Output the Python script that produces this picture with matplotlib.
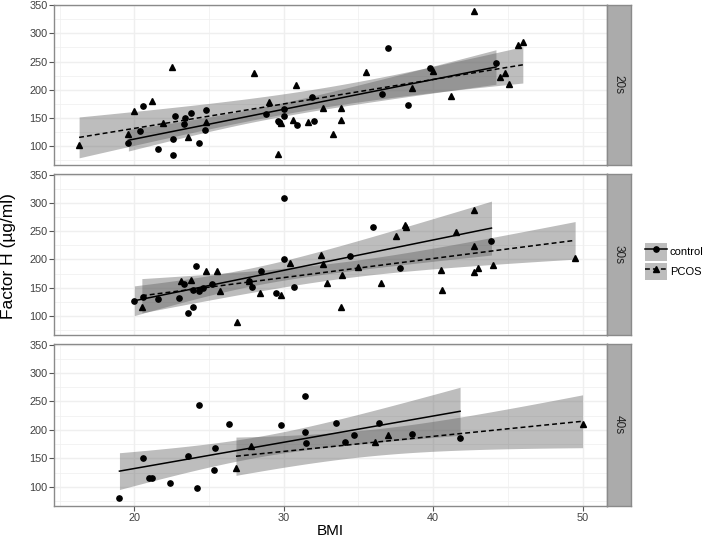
import numpy as np
import matplotlib
matplotlib.use("Agg")
import matplotlib.pyplot as plt
from matplotlib.patches import Patch
from matplotlib.lines import Line2D
from math import lgamma, exp, sqrt, pi

plt.rcParams['font.family'] = ['Liberation Sans', 'DejaVu Sans']

# ---------------- data ----------------
facets = ["20s", "30s", "40s"]
groups = ["control", "PCOS"]

ctrl20_bmi = [19.6, 20.4, 20.6, 21.6, 22.6, 22.6, 22.7, 23.3, 23.4, 23.8, 24.3, 24.7, 24.8,
              28.8, 29.6, 29.7, 30.0, 30.0, 30.9, 31.9, 32.0, 36.6, 37.0, 38.3, 39.8, 44.2]
ctrl20_fh = [104.7, 126.5, 171, 95.3, 83.5, 112, 154, 139, 149, 159, 104.7, 129, 164,
             156, 145, 142, 165, 154, 137.6, 187.6, 145, 192, 274.7, 172, 239, 247.6]
pcos20_bmi = [16.3, 19.6, 20.0, 21.2, 21.9, 22.5, 23.6, 24.8, 28.0, 29.0, 29.6, 29.8, 30.6,
              30.8, 31.6, 32.6, 33.3, 33.8, 33.8, 35.5, 38.6, 40.0, 41.2, 42.7, 44.5, 44.8,
              45.1, 45.7, 46.0]
pcos20_fh = [102.4, 122, 163, 180, 140.6, 240, 116, 143.5, 229, 179, 86, 140.6, 146,
             207.6, 142, 167, 121, 167, 146, 232, 203.5, 233, 188, 339, 222, 229,
             210, 280, 284]

ctrl30_bmi = [20.0, 20.6, 21.6, 23.0, 23.3, 23.6, 23.9, 23.9, 24.1, 24.3, 24.6, 25.2, 27.7,
              27.9, 28.5, 29.5, 30.0, 30.0, 30.7, 34.4, 36.0, 37.8, 43.9]
ctrl30_fh = [126.5, 133, 129.4, 131, 156.5, 104.7, 145, 116, 189, 144, 150, 156.5, 161,
             152, 180, 140, 309, 201, 152, 206.5, 257.6, 184, 232]
pcos30_bmi = [20.5, 23.1, 23.8, 24.8, 25.5, 25.7, 26.9, 27.7, 28.4, 29.8, 30.4, 32.5, 32.6,
              32.9, 33.8, 33.9, 35.0, 36.5, 37.5, 38.1, 38.2, 40.5, 40.6, 41.5, 42.7, 42.7,
              42.7, 43.0, 44.0, 49.5]
pcos30_fh = [116, 161, 163.5, 180, 180, 144, 89.4, 162, 140.6, 136.5, 194, 208, 191,
             157.6, 115, 173, 187, 159, 241, 260, 256.5, 181, 146, 248, 287.6, 223,
             178, 185, 190.6, 201.8]

ctrl40_bmi = [19.0, 20.6, 21.0, 21.2, 22.4, 23.6, 24.2, 24.3, 25.3, 25.4, 26.3, 29.8, 31.4,
              31.4, 31.5, 33.5, 34.1, 34.7, 36.4, 38.6, 41.8]
ctrl40_fh = [80, 151, 116, 115, 106, 155, 97.6, 244, 130, 169, 210, 209, 259.6,
             197, 177, 212, 179, 190.6, 213, 193, 186.5]
pcos40_bmi = [26.8, 27.8, 36.1, 37.0, 50.0]
pcos40_fh = [133, 172, 179, 190.6, 210]

data = {
    "20s": {"control": (ctrl20_bmi, ctrl20_fh), "PCOS": (pcos20_bmi, pcos20_fh)},
    "30s": {"control": (ctrl30_bmi, ctrl30_fh), "PCOS": (pcos30_bmi, pcos30_fh)},
    "40s": {"control": (ctrl40_bmi, ctrl40_fh), "PCOS": (pcos40_bmi, pcos40_fh)},
}

x_ticks = [20, 30, 40, 50]
y_ticks = [100, 150, 200, 250, 300, 350]


# ---------------- helpers ----------------
def t_ppf(p, df):
    xs = np.linspace(0, 60, 600001)
    c = exp(lgamma((df + 1) / 2) - lgamma(df / 2)) / sqrt(df * pi)
    pdf = c * (1 + xs ** 2 / df) ** (-(df + 1) / 2)
    cdf = 0.5 + np.concatenate([[0], np.cumsum((pdf[1:] + pdf[:-1]) / 2 * np.diff(xs))])
    return float(np.interp(p, cdf, xs))


def fit_band(x, y, xs):
    x = np.asarray(x, float)
    y = np.asarray(y, float)
    n = len(x)
    b, a = np.polyfit(x, y, 1)
    yhat = a + b * xs
    res = y - (a + b * x)
    s = sqrt(np.sum(res ** 2) / (n - 2))
    sxx = np.sum((x - x.mean()) ** 2)
    se = s * np.sqrt(1 / n + (xs - x.mean()) ** 2 / sxx)
    t = t_ppf(0.975, n - 2)
    return yhat, yhat - t * se, yhat + t * se


# ---------------- layout ----------------
W, H = 709, 540
fig = plt.figure(figsize=(W / 100, H / 100), dpi=100)
L, R = 54.3, 606.5
SR = 631.0
rows = [(4.7, 165.0), (174.0, 335.0), (344.0, 506.0)]

band_fc = "#5a5a5a"
band_alpha = 0.40
border_c = "#8a8a8a"
grid_c = "#efefef"
styles = {
    "control": dict(marker="o", ms=3.8, ls="-"),
    "PCOS": dict(marker="^", ms=4.6, ls=(0, (3.2, 2.0))),
}

for i, (facet, (top, bot)) in enumerate(zip(facets, rows)):
    ax = fig.add_axes([L / W, 1 - bot / H, (R - L) / W, (bot - top) / H])
    ax.set_xlim(14.64, 51.6)
    ax.set_ylim(66.3, 351.0)
    for xm in [15, 25, 35, 45]:
        ax.axvline(xm, color=grid_c, lw=0.5, zorder=0)
    for ym in [75, 125, 175, 225, 275, 325]:
        ax.axhline(ym, color=grid_c, lw=0.5, zorder=0)
    for xm in x_ticks:
        ax.axvline(xm, color=grid_c, lw=1.0, zorder=0)
    for ym in y_ticks:
        ax.axhline(ym, color=grid_c, lw=1.0, zorder=0)

    for g in groups:
        bx, fy = data[facet][g]
        xs = np.linspace(min(bx), max(bx), 100)
        yhat, lo, hi = fit_band(bx, fy, xs)
        ax.fill_between(xs, lo, hi, color=band_fc, alpha=band_alpha, lw=0, zorder=1)
    for g in groups:
        bx, fy = data[facet][g]
        xs = np.linspace(min(bx), max(bx), 100)
        yhat, lo, hi = fit_band(bx, fy, xs)
        ax.plot(xs, yhat, color="black", lw=1.1, ls=styles[g]["ls"], zorder=3)
        ax.plot(bx, fy, ls="none", marker=styles[g]["marker"], ms=styles[g]["ms"],
                color="black", mec="black", zorder=4)

    ax.set_yticks(y_ticks)
    ax.set_xticks(x_ticks)
    ax.tick_params(axis="both", length=3.5, width=0.8, color="#555555",
                   labelsize=7.8, labelcolor="#404040", pad=1.5)
    if i < 2:
        ax.tick_params(axis="x", labelbottom=False, length=0)
    for sp in ax.spines.values():
        sp.set_color(border_c)
        sp.set_linewidth(1.0)

    # strip
    sax = fig.add_axes([R / W, 1 - bot / H, (SR - R) / W, (bot - top) / H])
    sax.set_facecolor("#ababab")
    sax.set_xticks([])
    sax.set_yticks([])
    for sp in sax.spines.values():
        sp.set_color(border_c)
        sp.set_linewidth(1.0)
    sax.text(0.5, 0.5, facet, rotation=-90, ha="center", va="center",
             fontsize=8.5, color="#222222", transform=sax.transAxes)

fig.text(330 / W, 1 - 531 / H, "BMI", ha="center", va="center", fontsize=11, color="black")
fig.text(9 / W, 1 - 256 / H, "Factor H (\u00b5g/ml)", rotation=90, ha="center", va="center",
         fontsize=12.5, color="black")

handles = []
for g in groups:
    p = Patch(facecolor=band_fc, alpha=band_alpha, edgecolor="none")
    ln = Line2D([], [], color="black", lw=1.1, ls=styles[g]["ls"], marker=styles[g]["marker"],
                ms=styles[g]["ms"])
    handles.append((p, ln))
leg = fig.legend(handles, groups, loc="upper left", bbox_to_anchor=(645 / W, 1 - 243 / H),
                 frameon=False, fontsize=8.0, handlelength=2.0, handleheight=2.1,
                 handletextpad=0.25, labelspacing=0.15, borderpad=0, borderaxespad=0)

fig.savefig("out.png", dpi=100)
